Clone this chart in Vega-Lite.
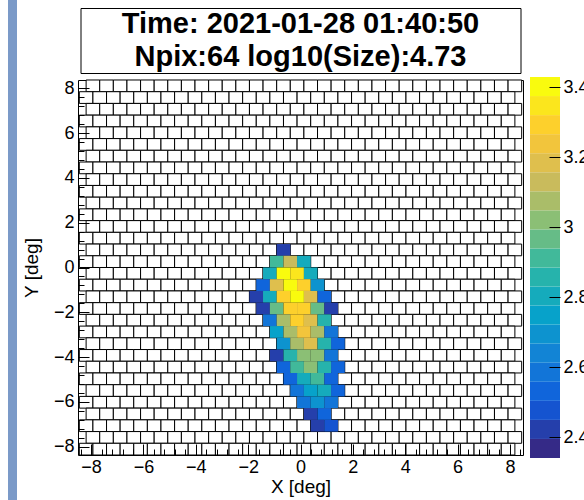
{
  "$schema": "https://vega.github.io/schema/vega-lite/v6.json",
  "padding": {"left": 8, "top": 0, "right": 0, "bottom": 0},
  "background": "white",
  "config": {
    "font": "Liberation Sans",
    "view": {"stroke": null},
    "axis": {"labelFont": "Liberation Sans", "titleFont": "Liberation Sans", "labelFontSize": 18, "titleFontSize": 19, "labelColor": "black", "titleColor": "black", "titleFontWeight": "normal", "tickColor": "black", "tickWidth": 1, "grid": false, "domain": false, "labelFlush": false}
  },
  "datasets": {
    "grid": [
      {"y": 8.107, "x": [-7.93,-7.41,-6.89,-6.37,-5.85,-5.33,-4.81,-4.29,-3.77,-3.25,-2.73,-2.21,-1.69,-1.17,-0.65,-0.13,0.39,0.91,1.43,1.95,2.47,2.99,3.51,4.03,4.55,5.07,5.59,6.11,6.63,7.15,7.67,8.19]},
      {"y": 7.584, "x": [-8.19,-7.67,-7.15,-6.63,-6.11,-5.59,-5.07,-4.55,-4.03,-3.51,-2.99,-2.47,-1.95,-1.43,-0.91,-0.39,0.13,0.65,1.17,1.69,2.21,2.73,3.25,3.77,4.29,4.81,5.33,5.85,6.37,6.89,7.41,7.93]},
      {"y": 7.061, "x": [-7.93,-7.41,-6.89,-6.37,-5.85,-5.33,-4.81,-4.29,-3.77,-3.25,-2.73,-2.21,-1.69,-1.17,-0.65,-0.13,0.39,0.91,1.43,1.95,2.47,2.99,3.51,4.03,4.55,5.07,5.59,6.11,6.63,7.15,7.67,8.19]},
      {"y": 6.538, "x": [-8.19,-7.67,-7.15,-6.63,-6.11,-5.59,-5.07,-4.55,-4.03,-3.51,-2.99,-2.47,-1.95,-1.43,-0.91,-0.39,0.13,0.65,1.17,1.69,2.21,2.73,3.25,3.77,4.29,4.81,5.33,5.85,6.37,6.89,7.41,7.93]},
      {"y": 6.015, "x": [-7.93,-7.41,-6.89,-6.37,-5.85,-5.33,-4.81,-4.29,-3.77,-3.25,-2.73,-2.21,-1.69,-1.17,-0.65,-0.13,0.39,0.91,1.43,1.95,2.47,2.99,3.51,4.03,4.55,5.07,5.59,6.11,6.63,7.15,7.67,8.19]},
      {"y": 5.492, "x": [-8.19,-7.67,-7.15,-6.63,-6.11,-5.59,-5.07,-4.55,-4.03,-3.51,-2.99,-2.47,-1.95,-1.43,-0.91,-0.39,0.13,0.65,1.17,1.69,2.21,2.73,3.25,3.77,4.29,4.81,5.33,5.85,6.37,6.89,7.41,7.93]},
      {"y": 4.969, "x": [-7.93,-7.41,-6.89,-6.37,-5.85,-5.33,-4.81,-4.29,-3.77,-3.25,-2.73,-2.21,-1.69,-1.17,-0.65,-0.13,0.39,0.91,1.43,1.95,2.47,2.99,3.51,4.03,4.55,5.07,5.59,6.11,6.63,7.15,7.67,8.19]},
      {"y": 4.446, "x": [-8.19,-7.67,-7.15,-6.63,-6.11,-5.59,-5.07,-4.55,-4.03,-3.51,-2.99,-2.47,-1.95,-1.43,-0.91,-0.39,0.13,0.65,1.17,1.69,2.21,2.73,3.25,3.77,4.29,4.81,5.33,5.85,6.37,6.89,7.41,7.93]},
      {"y": 3.923, "x": [-7.93,-7.41,-6.89,-6.37,-5.85,-5.33,-4.81,-4.29,-3.77,-3.25,-2.73,-2.21,-1.69,-1.17,-0.65,-0.13,0.39,0.91,1.43,1.95,2.47,2.99,3.51,4.03,4.55,5.07,5.59,6.11,6.63,7.15,7.67,8.19]},
      {"y": 3.4, "x": [-8.19,-7.67,-7.15,-6.63,-6.11,-5.59,-5.07,-4.55,-4.03,-3.51,-2.99,-2.47,-1.95,-1.43,-0.91,-0.39,0.13,0.65,1.17,1.69,2.21,2.73,3.25,3.77,4.29,4.81,5.33,5.85,6.37,6.89,7.41,7.93]},
      {"y": 2.877, "x": [-7.93,-7.41,-6.89,-6.37,-5.85,-5.33,-4.81,-4.29,-3.77,-3.25,-2.73,-2.21,-1.69,-1.17,-0.65,-0.13,0.39,0.91,1.43,1.95,2.47,2.99,3.51,4.03,4.55,5.07,5.59,6.11,6.63,7.15,7.67,8.19]},
      {"y": 2.354, "x": [-8.19,-7.67,-7.15,-6.63,-6.11,-5.59,-5.07,-4.55,-4.03,-3.51,-2.99,-2.47,-1.95,-1.43,-0.91,-0.39,0.13,0.65,1.17,1.69,2.21,2.73,3.25,3.77,4.29,4.81,5.33,5.85,6.37,6.89,7.41,7.93]},
      {"y": 1.831, "x": [-7.93,-7.41,-6.89,-6.37,-5.85,-5.33,-4.81,-4.29,-3.77,-3.25,-2.73,-2.21,-1.69,-1.17,-0.65,-0.13,0.39,0.91,1.43,1.95,2.47,2.99,3.51,4.03,4.55,5.07,5.59,6.11,6.63,7.15,7.67,8.19]},
      {"y": 1.308, "x": [-8.19,-7.67,-7.15,-6.63,-6.11,-5.59,-5.07,-4.55,-4.03,-3.51,-2.99,-2.47,-1.95,-1.43,-0.91,-0.39,0.13,0.65,1.17,1.69,2.21,2.73,3.25,3.77,4.29,4.81,5.33,5.85,6.37,6.89,7.41,7.93]},
      {"y": 0.785, "x": [-7.93,-7.41,-6.89,-6.37,-5.85,-5.33,-4.81,-4.29,-3.77,-3.25,-2.73,-2.21,-1.69,-1.17,-0.65,-0.13,0.39,0.91,1.43,1.95,2.47,2.99,3.51,4.03,4.55,5.07,5.59,6.11,6.63,7.15,7.67,8.19]},
      {"y": 0.262, "x": [-8.19,-7.67,-7.15,-6.63,-6.11,-5.59,-5.07,-4.55,-4.03,-3.51,-2.99,-2.47,-1.95,-1.43,-0.91,-0.39,0.13,0.65,1.17,1.69,2.21,2.73,3.25,3.77,4.29,4.81,5.33,5.85,6.37,6.89,7.41,7.93]},
      {"y": -0.262, "x": [-7.93,-7.41,-6.89,-6.37,-5.85,-5.33,-4.81,-4.29,-3.77,-3.25,-2.73,-2.21,-1.69,-1.17,-0.65,-0.13,0.39,0.91,1.43,1.95,2.47,2.99,3.51,4.03,4.55,5.07,5.59,6.11,6.63,7.15,7.67,8.19]},
      {"y": -0.785, "x": [-8.19,-7.67,-7.15,-6.63,-6.11,-5.59,-5.07,-4.55,-4.03,-3.51,-2.99,-2.47,-1.95,-1.43,-0.91,-0.39,0.13,0.65,1.17,1.69,2.21,2.73,3.25,3.77,4.29,4.81,5.33,5.85,6.37,6.89,7.41,7.93]},
      {"y": -1.308, "x": [-7.93,-7.41,-6.89,-6.37,-5.85,-5.33,-4.81,-4.29,-3.77,-3.25,-2.73,-2.21,-1.69,-1.17,-0.65,-0.13,0.39,0.91,1.43,1.95,2.47,2.99,3.51,4.03,4.55,5.07,5.59,6.11,6.63,7.15,7.67,8.19]},
      {"y": -1.831, "x": [-8.19,-7.67,-7.15,-6.63,-6.11,-5.59,-5.07,-4.55,-4.03,-3.51,-2.99,-2.47,-1.95,-1.43,-0.91,-0.39,0.13,0.65,1.17,1.69,2.21,2.73,3.25,3.77,4.29,4.81,5.33,5.85,6.37,6.89,7.41,7.93]},
      {"y": -2.354, "x": [-7.93,-7.41,-6.89,-6.37,-5.85,-5.33,-4.81,-4.29,-3.77,-3.25,-2.73,-2.21,-1.69,-1.17,-0.65,-0.13,0.39,0.91,1.43,1.95,2.47,2.99,3.51,4.03,4.55,5.07,5.59,6.11,6.63,7.15,7.67,8.19]},
      {"y": -2.877, "x": [-8.19,-7.67,-7.15,-6.63,-6.11,-5.59,-5.07,-4.55,-4.03,-3.51,-2.99,-2.47,-1.95,-1.43,-0.91,-0.39,0.13,0.65,1.17,1.69,2.21,2.73,3.25,3.77,4.29,4.81,5.33,5.85,6.37,6.89,7.41,7.93]},
      {"y": -3.4, "x": [-7.93,-7.41,-6.89,-6.37,-5.85,-5.33,-4.81,-4.29,-3.77,-3.25,-2.73,-2.21,-1.69,-1.17,-0.65,-0.13,0.39,0.91,1.43,1.95,2.47,2.99,3.51,4.03,4.55,5.07,5.59,6.11,6.63,7.15,7.67,8.19]},
      {"y": -3.923, "x": [-8.19,-7.67,-7.15,-6.63,-6.11,-5.59,-5.07,-4.55,-4.03,-3.51,-2.99,-2.47,-1.95,-1.43,-0.91,-0.39,0.13,0.65,1.17,1.69,2.21,2.73,3.25,3.77,4.29,4.81,5.33,5.85,6.37,6.89,7.41,7.93]},
      {"y": -4.446, "x": [-7.93,-7.41,-6.89,-6.37,-5.85,-5.33,-4.81,-4.29,-3.77,-3.25,-2.73,-2.21,-1.69,-1.17,-0.65,-0.13,0.39,0.91,1.43,1.95,2.47,2.99,3.51,4.03,4.55,5.07,5.59,6.11,6.63,7.15,7.67,8.19]},
      {"y": -4.969, "x": [-8.19,-7.67,-7.15,-6.63,-6.11,-5.59,-5.07,-4.55,-4.03,-3.51,-2.99,-2.47,-1.95,-1.43,-0.91,-0.39,0.13,0.65,1.17,1.69,2.21,2.73,3.25,3.77,4.29,4.81,5.33,5.85,6.37,6.89,7.41,7.93]},
      {"y": -5.492, "x": [-7.93,-7.41,-6.89,-6.37,-5.85,-5.33,-4.81,-4.29,-3.77,-3.25,-2.73,-2.21,-1.69,-1.17,-0.65,-0.13,0.39,0.91,1.43,1.95,2.47,2.99,3.51,4.03,4.55,5.07,5.59,6.11,6.63,7.15,7.67,8.19]},
      {"y": -6.015, "x": [-8.19,-7.67,-7.15,-6.63,-6.11,-5.59,-5.07,-4.55,-4.03,-3.51,-2.99,-2.47,-1.95,-1.43,-0.91,-0.39,0.13,0.65,1.17,1.69,2.21,2.73,3.25,3.77,4.29,4.81,5.33,5.85,6.37,6.89,7.41,7.93]},
      {"y": -6.538, "x": [-7.93,-7.41,-6.89,-6.37,-5.85,-5.33,-4.81,-4.29,-3.77,-3.25,-2.73,-2.21,-1.69,-1.17,-0.65,-0.13,0.39,0.91,1.43,1.95,2.47,2.99,3.51,4.03,4.55,5.07,5.59,6.11,6.63,7.15,7.67,8.19]},
      {"y": -7.061, "x": [-8.19,-7.67,-7.15,-6.63,-6.11,-5.59,-5.07,-4.55,-4.03,-3.51,-2.99,-2.47,-1.95,-1.43,-0.91,-0.39,0.13,0.65,1.17,1.69,2.21,2.73,3.25,3.77,4.29,4.81,5.33,5.85,6.37,6.89,7.41,7.93]},
      {"y": -7.584, "x": [-7.93,-7.41,-6.89,-6.37,-5.85,-5.33,-4.81,-4.29,-3.77,-3.25,-2.73,-2.21,-1.69,-1.17,-0.65,-0.13,0.39,0.91,1.43,1.95,2.47,2.99,3.51,4.03,4.55,5.07,5.59,6.11,6.63,7.15,7.67,8.19]},
      {"y": -8.107, "x": [-8.19,-7.67,-7.15,-6.63,-6.11,-5.59,-5.07,-4.55,-4.03,-3.51,-2.99,-2.47,-1.95,-1.43,-0.91,-0.39,0.13,0.65,1.17,1.69,2.21,2.73,3.25,3.77,4.29,4.81,5.33,5.85,6.37,6.89,7.41,7.93]}
    ],
    "hits": [
      {"x": -0.65, "y": 0.785, "v": 2.40},
      {"x": -0.91, "y": 0.262, "v": 2.92}, {"x": -0.39, "y": 0.262, "v": 3.15}, {"x": 0.13, "y": 0.262, "v": 2.78},
      {"x": -1.17, "y": -0.262, "v": 2.82}, {"x": -0.65, "y": -0.262, "v": 3.38}, {"x": -0.13, "y": -0.262, "v": 3.36}, {"x": 0.39, "y": -0.262, "v": 2.78},
      {"x": -1.43, "y": -0.785, "v": 2.55}, {"x": -0.91, "y": -0.785, "v": 3.20}, {"x": -0.39, "y": -0.785, "v": 3.41}, {"x": 0.13, "y": -0.785, "v": 3.28}, {"x": 0.65, "y": -0.785, "v": 2.72},
      {"x": -1.69, "y": -1.308, "v": 2.42}, {"x": -1.17, "y": -1.308, "v": 2.82}, {"x": -0.65, "y": -1.308, "v": 3.27}, {"x": -0.13, "y": -1.308, "v": 3.40}, {"x": 0.39, "y": -1.308, "v": 3.18}, {"x": 0.91, "y": -1.308, "v": 2.55},
      {"x": -1.43, "y": -1.831, "v": 2.40}, {"x": -0.91, "y": -1.831, "v": 2.97}, {"x": -0.39, "y": -1.831, "v": 3.30}, {"x": 0.13, "y": -1.831, "v": 3.30}, {"x": 0.65, "y": -1.831, "v": 2.97}, {"x": 1.17, "y": -1.831, "v": 2.40},
      {"x": -1.17, "y": -2.354, "v": 2.60}, {"x": -0.65, "y": -2.354, "v": 3.08}, {"x": -0.13, "y": -2.354, "v": 3.28}, {"x": 0.39, "y": -2.354, "v": 3.20}, {"x": 0.91, "y": -2.354, "v": 2.85},
      {"x": -0.91, "y": -2.877, "v": 2.75}, {"x": -0.39, "y": -2.877, "v": 3.10}, {"x": 0.13, "y": -2.877, "v": 3.25}, {"x": 0.65, "y": -2.877, "v": 3.05}, {"x": 1.17, "y": -2.877, "v": 2.60},
      {"x": -0.65, "y": -3.4, "v": 2.72}, {"x": -0.13, "y": -3.4, "v": 3.08}, {"x": 0.39, "y": -3.4, "v": 3.18}, {"x": 0.91, "y": -3.4, "v": 2.87}, {"x": 1.43, "y": -3.4, "v": 2.52},
      {"x": -0.91, "y": -3.923, "v": 2.42}, {"x": -0.39, "y": -3.923, "v": 2.85}, {"x": 0.13, "y": -3.923, "v": 3.00}, {"x": 0.65, "y": -3.923, "v": 3.00}, {"x": 1.17, "y": -3.923, "v": 2.58},
      {"x": -0.65, "y": -4.446, "v": 2.52}, {"x": -0.13, "y": -4.446, "v": 2.90}, {"x": 0.39, "y": -4.446, "v": 3.02}, {"x": 0.91, "y": -4.446, "v": 2.85}, {"x": 1.43, "y": -4.446, "v": 2.52},
      {"x": -0.39, "y": -4.969, "v": 2.55}, {"x": 0.13, "y": -4.969, "v": 2.83}, {"x": 0.65, "y": -4.969, "v": 2.90}, {"x": 1.17, "y": -4.969, "v": 2.55},
      {"x": -0.13, "y": -5.492, "v": 2.60}, {"x": 0.39, "y": -5.492, "v": 2.75}, {"x": 0.91, "y": -5.492, "v": 2.80}, {"x": 1.43, "y": -5.492, "v": 2.55},
      {"x": 0.13, "y": -6.015, "v": 2.58}, {"x": 0.65, "y": -6.015, "v": 2.72}, {"x": 1.17, "y": -6.015, "v": 2.60},
      {"x": 0.39, "y": -6.538, "v": 2.42}, {"x": 0.91, "y": -6.538, "v": 2.55},
      {"x": 0.65, "y": -7.061, "v": 2.40}, {"x": 1.17, "y": -7.061, "v": 2.48}
    ],
    "bands": [
      {"lo": 2.34, "hi": 2.3945, "mid": 2.367},
      {"lo": 2.3945, "hi": 2.449, "mid": 2.422},
      {"lo": 2.449, "hi": 2.5035, "mid": 2.476},
      {"lo": 2.5035, "hi": 2.558, "mid": 2.531},
      {"lo": 2.558, "hi": 2.6125, "mid": 2.585},
      {"lo": 2.6125, "hi": 2.667, "mid": 2.640},
      {"lo": 2.667, "hi": 2.7215, "mid": 2.694},
      {"lo": 2.7215, "hi": 2.776, "mid": 2.749},
      {"lo": 2.776, "hi": 2.8305, "mid": 2.803},
      {"lo": 2.8305, "hi": 2.885, "mid": 2.858},
      {"lo": 2.885, "hi": 2.9395, "mid": 2.912},
      {"lo": 2.9395, "hi": 2.994, "mid": 2.967},
      {"lo": 2.994, "hi": 3.0485, "mid": 3.021},
      {"lo": 3.0485, "hi": 3.103, "mid": 3.076},
      {"lo": 3.103, "hi": 3.1575, "mid": 3.130},
      {"lo": 3.1575, "hi": 3.212, "mid": 3.185},
      {"lo": 3.212, "hi": 3.2665, "mid": 3.239},
      {"lo": 3.2665, "hi": 3.321, "mid": 3.294},
      {"lo": 3.321, "hi": 3.3755, "mid": 3.348},
      {"lo": 3.3755, "hi": 3.43, "mid": 3.403}
    ]
  },
  "spacing": 5,
  "hconcat": [
    {
      "width": 9, "height": 500,
      "view": {"fill": "#7b9ac8", "stroke": null},
      "data": {"values": [{}]},
      "mark": {"type": "rect", "opacity": 0}
    },
    {
      "bounds": "flush",
      "spacing": 7,
      "center": true,
      "vconcat": [
        {
          "width": 440, "height": 1,
          "data": {"values": [{}]},
          "mark": {"type": "rect", "opacity": 0}
        },
        {
          "width": 440, "height": 65,
          "view": {"stroke": "black", "strokeWidth": 1, "fill": "white"},
          "data": {"values": [
            {"line": 1, "text": "Time: 2021-01-28 01:40:50"},
            {"line": 2, "text": "Npix:64 log10(Size):4.73"}
          ]},
          "mark": {"type": "text", "font": "Liberation Sans", "fontSize": 29, "fontWeight": "bold", "color": "black"},
          "encoding": {
            "y": {"field": "line", "type": "ordinal", "axis": null},
            "text": {"field": "text"}
          }
        },
        {
          "width": 445, "height": 375,
          "view": {"stroke": "black", "strokeWidth": 1},
          "encoding": {
            "x": {"field": "x", "type": "quantitative", "scale": {"domain": [-8.5, 8.5], "nice": false, "zero": false},
                  "axis": {"title": "X [deg]", "format": "~g",
                    "values": [-8.4,-8,-7.6,-7.2,-6.8,-6.4,-6,-5.6,-5.2,-4.8,-4.4,-4,-3.6,-3.2,-2.8,-2.4,-2,-1.6,-1.2,-0.8,-0.4,0,0.4,0.8,1.2,1.6,2,2.4,2.8,3.2,3.6,4,4.4,4.8,5.2,5.6,6,6.4,6.8,7.2,7.6,8,8.4],
                    "labelExpr": "abs(datum.value/2 - round(datum.value/2)) < 0.01 ? datum.label : ''",
                    "tickSize": {"condition": {"test": "abs(datum.value/2 - round(datum.value/2)) < 0.01", "value": -11}, "value": -6},
                    "labelPadding": 14, "titlePadding": 1, "zindex": 1}},
            "y": {"field": "y", "type": "quantitative", "scale": {"domain": [-8.368, 8.368], "nice": false, "zero": false},
                  "axis": {"title": "Y [deg]", "format": "~g",
                    "values": [-8,-7.6,-7.2,-6.8,-6.4,-6,-5.6,-5.2,-4.8,-4.4,-4,-3.6,-3.2,-2.8,-2.4,-2,-1.6,-1.2,-0.8,-0.4,0,0.4,0.8,1.2,1.6,2,2.4,2.8,3.2,3.6,4,4.4,4.8,5.2,5.6,6,6.4,6.8,7.2,7.6,8],
                    "labelExpr": "abs(datum.value/2 - round(datum.value/2)) < 0.01 ? datum.label : ''",
                    "tickSize": {"condition": {"test": "abs(datum.value/2 - round(datum.value/2)) < 0.01", "value": -11}, "value": -6},
                    "labelPadding": 15, "titlePadding": 11.5, "zindex": 1}}
          },
          "layer": [
            {
              "data": {"name": "grid"},
              "transform": [{"flatten": ["x"]}],
              "mark": {"type": "point", "shape": "M-1,-0.861L1,-0.861L1,0.861L-1,0.861Z", "size": 185, "filled": true, "fill": "white", "stroke": "black", "strokeWidth": 1, "opacity": 1}
            },
            {
              "data": {"name": "hits"},
              "mark": {"type": "point", "shape": "M-1,-0.861L1,-0.861L1,0.861L-1,0.861Z", "size": 185, "filled": true, "strokeWidth": 0, "opacity": 1},
              "encoding": {
                "color": {"field": "v", "type": "quantitative", "legend": null,
                  "scale": {"type": "quantize", "domain": [2.34, 3.43],
                    "range": ["#352a87","#253fab","#1554d0","#1065db","#1275d8","#1284d5","#0d93cf","#07a2ca","#15abbc","#26b3ac","#41b99a","#66bc87","#8bbf75","#aabd69","#c9bb5c","#dfbf4d","#f2c53c","#fdd02c","#fbe61d","#f9fb0e"]}
                }
              }
            }
          ]
        }
      ]
    },
    {
      "bounds": "flush",
      "spacing": 7,
      "vconcat": [
        {
          "width": 30, "height": 70,
          "data": {"values": [{}]},
          "mark": {"type": "rect", "opacity": 0}
        },
        {
          "width": 30, "height": 381,
          "data": {"name": "bands"},
          "mark": {"type": "rect", "strokeWidth": 0},
          "encoding": {
            "y": {"field": "lo", "type": "quantitative", "scale": {"domain": [2.34, 3.43], "nice": false, "zero": false},
                  "axis": {"orient": "right", "title": null, "values": [2.4, 2.6, 2.8, 3, 3.2, 3.4], "format": "~g", "tickSize": -11, "labelPadding": 14, "zindex": 1}},
            "y2": {"field": "hi"},
            "color": {"field": "mid", "type": "quantitative", "legend": null,
              "scale": {"type": "quantize", "domain": [2.34, 3.43],
                "range": ["#352a87","#253fab","#1554d0","#1065db","#1275d8","#1284d5","#0d93cf","#07a2ca","#15abbc","#26b3ac","#41b99a","#66bc87","#8bbf75","#aabd69","#c9bb5c","#dfbf4d","#f2c53c","#fdd02c","#fbe61d","#f9fb0e"]}
            }
          }
        }
      ]
    }
  ]
}
